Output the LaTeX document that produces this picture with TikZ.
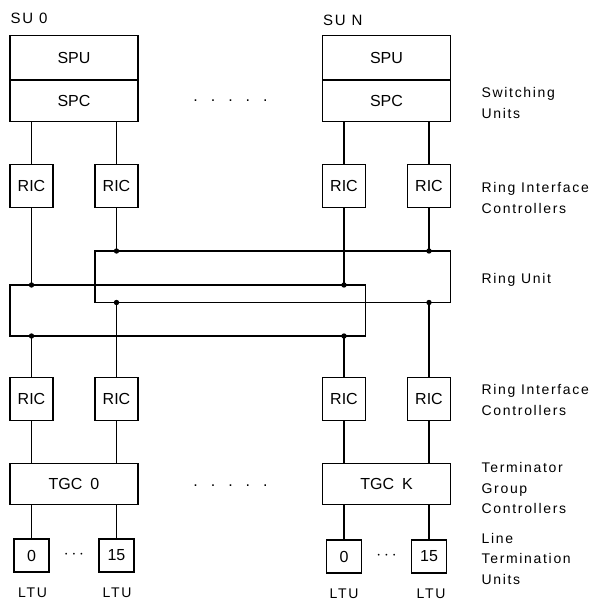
\documentclass[tikz,border=0pt]{standalone}
\usepackage{fontspec}
\setmainfont{Liberation Sans}
\newfontfamily\lblfont[LetterSpace=12]{Liberation Sans}
\usetikzlibrary{positioning}

\begin{document}
\begin{tikzpicture}[
   x=1pt,y=-1pt,
   line width=1.25pt,
   every node/.style={font=\fontsize{16}{18}\selectfont},
   unit/.style={draw,inner sep=0pt,minimum width=128pt},
   ric/.style={draw,inner sep=0pt,minimum width=43pt,minimum height=43pt},
   ltu/.style={draw,inner sep=0pt,minimum width=35pt,minimum height=33pt},
   junction/.style={circle,fill,inner sep=0pt,minimum size=5.4pt},
   sidelabel/.style={anchor=north west,inner sep=0pt,align=left,
     font=\lblfont\fontsize{14}{20.5}\selectfont},
   caption/.style={anchor=base,inner sep=0pt,font=\lblfont\fontsize{14}{16}\selectfont},
   gapdots/.style={anchor=base,inner sep=0pt}
 ]
  \useasboundingbox (0,0) rectangle (594,600);

  % Switching units 0 and N
  \node[unit,minimum height=44pt] (spu0) at (74,57.5) {SPU};
  \node[unit,minimum height=41pt,below=0pt of spu0] (spc0) {SPC};
  \node[unit,minimum height=44pt] (spuN) at (386.5,57.5) {SPU};
  \node[unit,minimum height=41pt,below=0pt of spuN] (spcN) {SPC};
  \node[anchor=base west,inner sep=0pt,font=\lblfont\fontsize{15}{16}\selectfont] (su0) at (10,23.5) {SU 0};
  \node[anchor=base west,inner sep=0pt,font=\lblfont\fontsize{15}{16}\selectfont] (suN) at (322.5,25.5) {SU N};
  \node[gapdots] (dotsU) at (230.5,101) {.\hskip13pt.\hskip13pt.\hskip13pt.\hskip13pt.};

  % Ring interface controllers, upper row
  \node[ric] (ricU1) at (31.5,186) {RIC};
  \node[ric] (ricU2) at (116.5,186) {RIC};
  \node[ric] (ricU3) at (344,186) {RIC};
  \node[ric] (ricU4) at (429,186) {RIC};
  \draw (ricU1.north |- spc0.south) -- (ricU1.north);
  \draw (ricU2.north |- spc0.south) -- (ricU2.north);
  \draw (ricU3.north |- spcN.south) -- (ricU3.north);
  \draw (ricU4.north |- spcN.south) -- (ricU4.north);

  % The two rings
  \draw (95,251) rectangle (450.5,302.5);
  \draw (10,285) rectangle (365.5,336);
  \node[junction] (jA1) at (116.5,251) {};
  \node[junction] (jA2) at (429,251) {};
  \node[junction] (jA3) at (116.5,302.5) {};
  \node[junction] (jA4) at (429,302.5) {};
  \node[junction] (jB1) at (31.5,285) {};
  \node[junction] (jB2) at (344,285) {};
  \node[junction] (jB3) at (31.5,336) {};
  \node[junction] (jB4) at (344,336) {};
  \draw (ricU1.south) -- (jB1.center);
  \draw (ricU2.south) -- (jA1.center);
  \draw (ricU3.south) -- (jB2.center);
  \draw (ricU4.south) -- (jA2.center);

  % Ring interface controllers, lower row
  \node[ric] (ricL1) at (31.5,399) {RIC};
  \node[ric] (ricL2) at (116.5,399) {RIC};
  \node[ric] (ricL3) at (344,399) {RIC};
  \node[ric] (ricL4) at (429,399) {RIC};
  \draw (jB3.center) -- (ricL1.north);
  \draw (jA3.center) -- (ricL2.north);
  \draw (jB4.center) -- (ricL3.north);
  \draw (jA4.center) -- (ricL4.north);

  % Terminator group controllers
  \node[unit,minimum height=41.5pt] (tgc0) at (74,484) {TGC\enspace 0};
  \node[unit,minimum height=41.5pt] (tgcK) at (386.5,484) {TGC\enspace K};
  \node[gapdots] (dotsL) at (230.5,486) {.\hskip13pt.\hskip13pt.\hskip13pt.\hskip13pt.};
  \draw (ricL1.south) -- (ricL1.south |- tgc0.north);
  \draw (ricL2.south) -- (ricL2.south |- tgc0.north);
  \draw (ricL3.south) -- (ricL3.south |- tgcK.north);
  \draw (ricL4.south) -- (ricL4.south |- tgcK.north);

  % Line termination units
  \node[ltu] (ltu00) at (31.5,555.5) {0};
  \node[ltu] (ltu015) at (116.5,555.5) {15};
  \node[ltu] (ltuK0) at (344,556.5) {0};
  \node[ltu] (ltuK15) at (429,556.5) {15};
  \node (more0) at (74,555) {$\cdots$};
  \node (moreK) at (386.5,556) {$\cdots$};
  \draw (ltu00.north |- tgc0.south) -- (ltu00.north);
  \draw (ltu015.north |- tgc0.south) -- (ltu015.north);
  \draw (ltuK0.north |- tgcK.south) -- (ltuK0.north);
  \draw (ltuK15.north |- tgcK.south) -- (ltuK15.north);
  \node[caption] (cap00) at (32.5,597) {LTU};
  \node[caption] (cap015) at (117,597) {LTU};
  \node[caption] (capK0) at (344,598.5) {LTU};
  \node[caption] (capK15) at (431,598.5) {LTU};

  % Row names on the right
  \node[sidelabel] (nSU) at (481,87) {Switching\\Units};
  \node[sidelabel] (nRICU) at (481,182) {Ring Interface\\Controllers};
  \node[sidelabel] (nRing) at (481,273) {Ring Unit};
  \node[sidelabel] (nRICL) at (481,384) {Ring Interface\\Controllers};
  \node[sidelabel] (nTGC) at (481,462) {Terminator\\Group\\Controllers};
  \node[sidelabel] (nLTU) at (481,532.5) {Line\\Termination\\Units};
\end{tikzpicture}
\end{document}
